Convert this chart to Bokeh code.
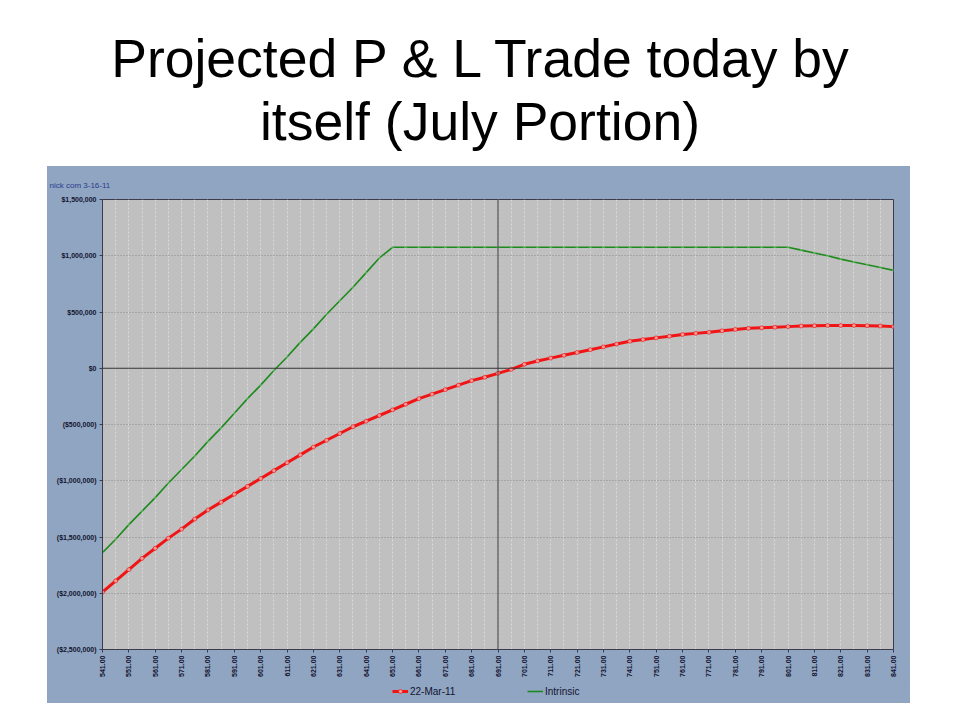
from bokeh.plotting import figure
from bokeh.models import (Range1d, FixedTicker, Span, Legend, LegendItem, Div, Title)
from bokeh.layouts import column
from bokeh.embed import file_html
from bokeh.resources import INLINE
import math

# ---------------- data ----------------
prices = [541, 546, 551, 556, 561, 566, 571, 576, 581, 586, 591, 596, 601, 606, 611,
          616, 621, 626, 631, 636, 641, 646, 651, 656, 661, 666, 671, 676, 681, 686,
          691, 696, 701, 706, 711, 716, 721, 726, 731, 736, 741, 746, 751, 756, 761,
          766, 771, 776, 781, 786, 791, 796, 801, 806, 811, 816, 821, 826, 831, 836, 841]

pl_22mar11 = [-1.99e6, -1.89e6, -1.79e6, -1.69e6, -1.60e6, -1.51e6, -1.43e6, -1.34e6,
              -1.26e6, -1.19e6, -1.12e6, -1.05e6, -0.98e6, -0.91e6, -0.84e6, -0.77e6,
              -0.70e6, -0.64e6, -0.58e6, -0.52e6, -0.47e6, -0.42e6, -0.37e6, -0.32e6,
              -0.27e6, -0.23e6, -0.19e6, -0.15e6, -0.11e6, -0.08e6, -0.045e6, -0.01e6,
              0.035e6, 0.065e6, 0.09e6, 0.115e6, 0.14e6, 0.165e6, 0.19e6, 0.215e6,
              0.24e6, 0.255e6, 0.27e6, 0.285e6, 0.30e6, 0.31e6, 0.32e6, 0.333e6,
              0.345e6, 0.355e6, 0.36e6, 0.365e6, 0.37e6, 0.375e6, 0.378e6, 0.38e6,
              0.38e6, 0.38e6, 0.378e6, 0.375e6, 0.37e6]

pl_intrinsic = [-1.64e6, -1.52e6, -1.39e6, -1.27e6, -1.15e6, -1.02e6, -0.90e6, -0.78e6,
                -0.65e6, -0.53e6, -0.40e6, -0.27e6, -0.15e6, -0.02e6, 0.10e6, 0.23e6,
                0.35e6, 0.48e6, 0.60e6, 0.72e6, 0.85e6, 0.98e6, 1.075e6,
                1.075e6, 1.075e6, 1.075e6, 1.075e6, 1.075e6, 1.075e6, 1.075e6, 1.075e6,
                1.075e6, 1.075e6, 1.075e6, 1.075e6, 1.075e6, 1.075e6, 1.075e6, 1.075e6,
                1.075e6, 1.075e6, 1.075e6, 1.075e6, 1.075e6, 1.075e6, 1.075e6, 1.075e6,
                1.075e6, 1.075e6, 1.075e6, 1.075e6, 1.075e6, 1.075e6,
                1.05e6, 1.025e6, 1.00e6, 0.97e6, 0.945e6, 0.92e6, 0.895e6, 0.87e6]

x_ticks = [541, 551, 561, 571, 581, 591, 601, 611, 621, 631, 641, 651, 661, 671, 681,
           691, 701, 711, 721, 731, 741, 751, 761, 771, 781, 791, 801, 811, 821, 831, 841]
x_tick_labels = ["541.00", "551.00", "561.00", "571.00", "581.00", "591.00", "601.00",
                 "611.00", "621.00", "631.00", "641.00", "651.00", "661.00", "671.00",
                 "681.00", "691.00", "701.00", "711.00", "721.00", "731.00", "741.00",
                 "751.00", "761.00", "771.00", "781.00", "791.00", "801.00", "811.00",
                 "821.00", "831.00", "841.00"]

y_ticks = [-2.5e6, -2.0e6, -1.5e6, -1.0e6, -0.5e6, 0, 0.5e6, 1.0e6, 1.5e6]
y_tick_labels = ["($2,500,000)", "($2,000,000)", "($1,500,000)", "($1,000,000)",
                 "($500,000)", "$0", "$500,000", "$1,000,000", "$1,500,000"]

current_price = 691
series_names = ["22-Mar-11", "Intrinsic"]
title_lines = ["Projected P & L Trade today by", "itself (July Portion)"]
stamp_text = "nick com 3-16-11"

# ---------------- styling ----------------
PANEL = "#8FA5C2"
PLOT_BG = "#C0C0C0"
AXIS_FONT = "Liberation Sans"
LABEL_COLOR = "#14142e"
RED = "#f01414"
GREEN = "#1d8a1d"

title_div = Div(
    text=("<div style=\"font-family:'Liberation Sans', Arial, sans-serif; font-size:53.5px; "
          "line-height:63px; color:#000; text-align:center; padding-top:27px; width:960px;\">"
          + title_lines[0] + "<br>" + title_lines[1] + "</div>"),
    width=960, height=166, margin=(0, 0, 0, 0))

p = figure(frame_width=791, frame_height=450, output_backend="svg", toolbar_location=None,
           x_range=Range1d(prices[0], prices[-1]), y_range=Range1d(y_ticks[0], y_ticks[-1]),
           min_border_left=55, min_border_right=17, min_border_top=33, min_border_bottom=36,
           background_fill_color=PLOT_BG, border_fill_color=PANEL, margin=(0, 0, 0, 0))
p.outline_line_color = "#3c3c4c"
p.outline_line_width = 1

# stamp text at top-left
stamp = Title(text=stamp_text, align="left", offset=-53, text_font=AXIS_FONT,
              text_font_size="8px", text_font_style="normal", text_color="#2a3d8f",
              standoff=19)
p.add_layout(stamp, "above")

# axes
p.xaxis.ticker = FixedTicker(ticks=x_ticks)
p.xaxis.major_label_overrides = {t: l for t, l in zip(x_ticks, x_tick_labels)}
p.xaxis.major_label_orientation = math.pi / 2
p.yaxis.ticker = FixedTicker(ticks=y_ticks)
p.yaxis.major_label_overrides = {t: l for t, l in zip(y_ticks, y_tick_labels)}
for ax in (p.xaxis[0], p.yaxis[0]):
    ax.major_label_text_font = AXIS_FONT
    ax.major_label_text_font_size = "7px"
    ax.major_label_text_font_style = "bold"
    ax.major_label_text_color = LABEL_COLOR
    ax.axis_line_color = "#3c3c4c"
    ax.major_tick_line_color = "#3c3c4c"
    ax.major_tick_out = 3
    ax.major_tick_in = 0
    ax.minor_tick_line_color = None
    ax.major_label_standoff = 3

# grids
p.xgrid.ticker = FixedTicker(ticks=prices)
p.xgrid.grid_line_color = "#dadada"
p.xgrid.grid_line_dash = "2 2"
p.xgrid.grid_line_width = 1
p.ygrid.ticker = FixedTicker(ticks=y_ticks)
p.ygrid.grid_line_color = "#8a8a8a"
p.ygrid.grid_line_dash = "1 2"
p.ygrid.grid_line_width = 1

# reference lines
p.add_layout(Span(location=0, dimension="width", line_color="#3a3a3a", line_width=1))
p.add_layout(Span(location=current_price, dimension="height", line_color="#3a3a3a", line_width=1))

# series
g_line = p.line(prices, pl_intrinsic, line_color=GREEN, line_width=1.6)
g_pts = p.scatter(prices, pl_intrinsic, marker="circle", size=3, fill_color="#8fcf8f",
                  line_color=None, fill_alpha=0.45)
r_line = p.line(prices, pl_22mar11, line_color=RED, line_width=3)
r_pts = p.scatter(prices, pl_22mar11, marker="circle", size=4, fill_color="#ff9a9a",
                  line_color="#e01010", line_width=0.6)

# ---- legend strip (bottom of the same blue panel) ----
# same series drawn again, but the strip's y range lies above all values, so only the
# legend swatches are visible
lg = figure(width=863, height=18, output_backend="svg", toolbar_location=None,
            x_axis_type=None, y_axis_type=None,
            x_range=Range1d(prices[0], prices[-1]), y_range=Range1d(5e6, 6e6),
            min_border_left=55, min_border_right=17, min_border_top=0, min_border_bottom=0,
            background_fill_color=PANEL, border_fill_color=PANEL, margin=(0, 0, 0, 0))
lg.outline_line_color = PANEL
lr_line = lg.line(prices, pl_22mar11, line_color=RED, line_width=3)
lr_pts = lg.scatter(prices, pl_22mar11, marker="circle", size=4, fill_color="#ff9a9a",
                    line_color="#e01010", line_width=0.6)
lg_line = lg.line(prices, pl_intrinsic, line_color=GREEN, line_width=1.6)

legend = Legend(items=[LegendItem(label=series_names[0], renderers=[lr_line, lr_pts]),
                       LegendItem(label=series_names[1], renderers=[lg_line])],
                location=(290, 6), orientation="horizontal",
                background_fill_alpha=0, border_line_alpha=0,
                label_text_font=AXIS_FONT, label_text_font_size="10px",
                label_text_color=LABEL_COLOR, glyph_width=16, glyph_height=10,
                padding=0, margin=0, spacing=60, label_standoff=2, label_height=12,
                label_width=57)
lg.add_layout(legend, "center")

panel = column(p, lg, spacing=0, margin=(0, 0, 0, 47),
               styles={"background-color": PANEL})
layout = column(title_div, panel, spacing=0)
open("out.html", "w").write(file_html(layout, INLINE))
